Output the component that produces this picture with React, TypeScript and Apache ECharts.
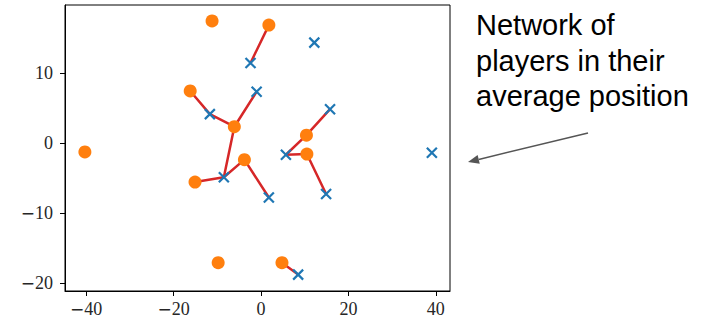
import React, { useEffect, useRef } from "react";
import * as echarts from "echarts";

const orangeX = [-11.2, 1.8, -16.2, -6.1, -40.3, 10.4, 10.5, -3.8, -15.1, -9.8, 4.8];
const orangeY = [17.4, 16.8, 7.4, 2.3, -1.3, 1.1, -1.6, -2.4, -5.6, -17.1, -17.1];
const blueX = [-2.4, 12.2, -1.0, -11.7, 15.8, 5.7, 39.1, -8.5, 1.8, 14.9, 8.5];
const blueY = [11.4, 14.3, 7.3, 4.1, 4.8, -1.7, -1.4, -4.9, -7.8, -7.3, -18.8];
// [orange index, blue index]
const edges: [number, number][] = [
  [1, 0], [2, 3], [3, 3], [3, 2], [3, 7], [8, 7], [7, 7], [7, 8],
  [5, 5], [5, 4], [6, 5], [6, 9], [10, 10],
];
const xTicks = [-40, -20, 0, 20, 40];
const yTicks = [-20, -10, 0, 10];
const annotationLines = ["Network of", "players in their", "average position"];

export default function App() {
  const ref = useRef<HTMLDivElement>(null);
  useEffect(() => {
    if (!ref.current) return;
    const chart = echarts.init(ref.current, undefined, { renderer: "svg" });
    const labelFont = {
      fontFamily: "Liberation Serif",
      fontSize: 18,
      color: "#262626",
      formatter: (v: number) =>
        v < 0 ? "{m|\u2212}" + String(Math.abs(v)) : String(v),
      rich: {
        m: { fontFamily: "DejaVu Sans", fontSize: 17, color: "#262626" },
      },
    };
    const lineData = edges.map(([o, b]) => ({
      coords: [
        [orangeX[o], orangeY[o]],
        [blueX[b], blueY[b]],
      ],
    }));
    const dir = [468 - 588, 162 - 133];
    const len = Math.hypot(dir[0], dir[1]);
    const u = [dir[0] / len, dir[1] / len];
    const tip = [468, 162];
    const headL = 11;
    const headW = 4.5;
    const base = [tip[0] - headL * u[0], tip[1] - headL * u[1]];
    const perp = [-u[1], u[0]];
    chart.setOption({
      animation: false,
      grid: {
        left: 65,
        top: 5,
        width: 385,
        height: 286,
        show: true,
        borderColor: "#000",
        borderWidth: 1,
        backgroundColor: "transparent",
      },
      xAxis: {
        type: "value",
        min: -44.85,
        max: 43.25,
        splitLine: { show: false },
        axisLine: { show: true, onZero: false, lineStyle: { color: "#000", width: 1 } },
        axisTick: { show: true, length: 5, lineStyle: { color: "#000" }, customValues: xTicks },
        axisLabel: { ...labelFont, margin: 9, customValues: xTicks },
      },
      yAxis: {
        type: "value",
        min: -21.14,
        max: 19.67,
        splitLine: { show: false },
        axisLine: { show: true, onZero: false, lineStyle: { color: "#000", width: 1 } },
        axisTick: { show: true, length: 5, lineStyle: { color: "#000" }, customValues: yTicks },
        axisLabel: { ...labelFont, margin: 12, customValues: yTicks },
      },
      series: [
        {
          type: "lines",
          coordinateSystem: "cartesian2d",
          data: lineData,
          lineStyle: { color: "#d62728", width: 2.5, opacity: 1, cap: "round" },
          z: 1,
        },
        {
          type: "scatter",
          data: orangeX.map((x, i) => [x, orangeY[i]]),
          symbol: "circle",
          symbolSize: 13,
          itemStyle: { color: "#ff7f0e", opacity: 1 },
          z: 2,
        },
        {
          type: "scatter",
          data: blueX.map((x, i) => [x, blueY[i]]),
          symbol: "path://M0,0L10,10M10,0L0,10",
          symbolSize: 10,
          itemStyle: {
            color: "rgba(0,0,0,0)",
            borderColor: "#1f77b4",
            borderWidth: 2.2,
            opacity: 1,
          },
          z: 3,
        },
      ],
      graphic: [
        ...annotationLines.map((t, i) => ({
          type: "text",
          x: 476,
          y: [25, 61, 96][i],
          style: {
            text: t,
            fontFamily: "Liberation Sans",
            fontSize: 29,
            fill: "#000",
            textVerticalAlign: "middle",
          },
        })),
        {
          type: "line",
          shape: { x1: 588, y1: 133, x2: base[0], y2: base[1] },
          style: { stroke: "#555", lineWidth: 1.5 },
        },
        {
          type: "polygon",
          shape: {
            points: [
              tip,
              [base[0] + headW * perp[0], base[1] + headW * perp[1]],
              [base[0] - headW * perp[0], base[1] - headW * perp[1]],
            ],
          },
          style: { fill: "#555" },
        },
      ],
    });
    return () => chart.dispose();
  }, []);
  return (
    <div
      ref={ref}
      style={{ position: "fixed", left: 0, top: 0, width: 706, height: 321, background: "#fff" }}
    />
  );
}
